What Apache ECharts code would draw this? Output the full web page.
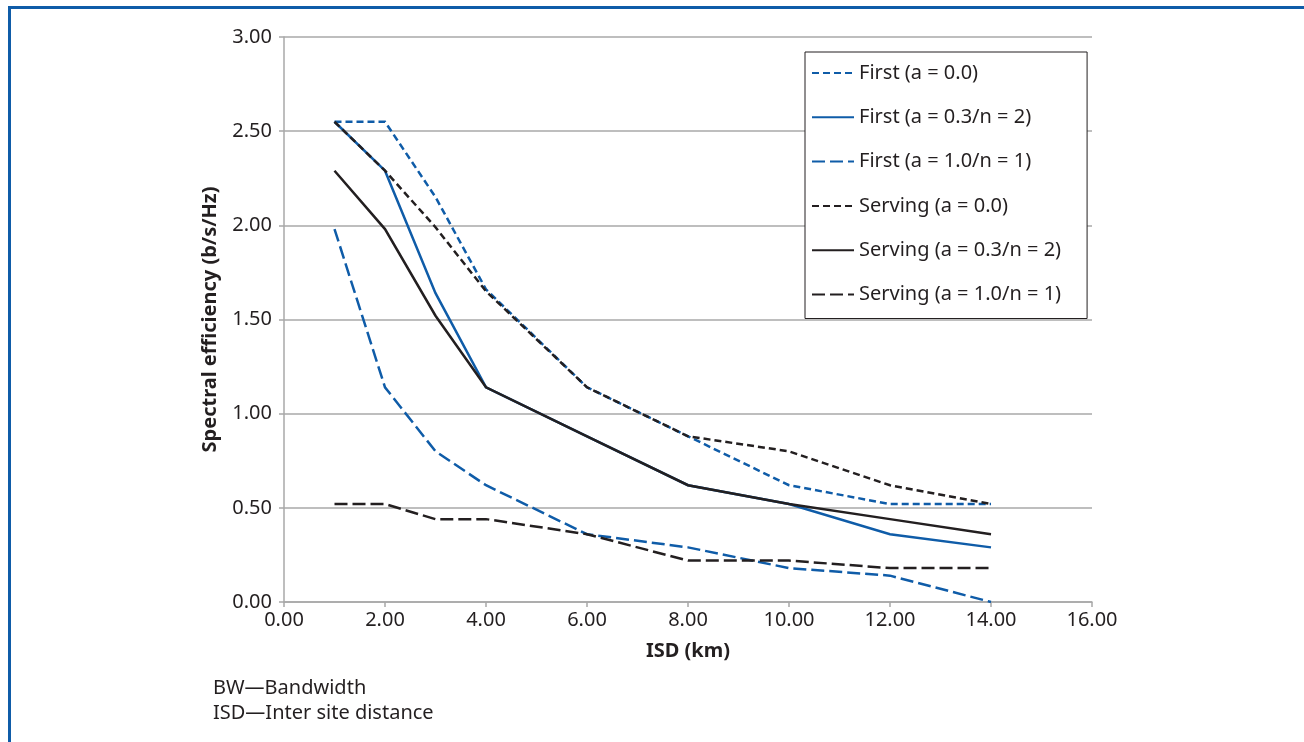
<!DOCTYPE html>
<html>
<head>
<meta charset="utf-8">
<script src="https://cdn.jsdelivr.net/npm/echarts@6/dist/echarts.min.js"></script>
<style>
  html, body { margin: 0; padding: 0; background: #ffffff; }
  #chart { width: 1304px; height: 742px; }
</style>
</head>
<body>
<div id="chart"></div>
<script>
// Inter site distance (km) at which spectral efficiency was evaluated
const isdKm = [1, 2, 3, 4, 6, 8, 10, 12, 14];

// Spectral efficiency (b/s/Hz) per cell-selection scheme
const firstA00   = [2.55, 2.55, 2.15, 1.66, 1.14, 0.88, 0.62, 0.52, 0.52];
const firstA03   = [2.55, 2.29, 1.64, 1.14, 0.88, 0.62, 0.52, 0.36, 0.29];
const firstA10   = [1.98, 1.14, 0.80, 0.62, 0.36, 0.29, 0.18, 0.14, 0.00];
const servingA00 = [2.55, 2.29, 1.99, 1.65, 1.14, 0.88, 0.80, 0.62, 0.52];
const servingA03 = [2.29, 1.98, 1.52, 1.14, 0.88, 0.62, 0.52, 0.44, 0.36];
const servingA10 = [0.52, 0.52, 0.44, 0.44, 0.36, 0.22, 0.22, 0.18, 0.18];

const seriesNames = [
  'First (a = 0.0)',
  'First (a = 0.3/n = 2)',
  'First (a = 1.0/n = 1)',
  'Serving (a = 0.0)',
  'Serving (a = 0.3/n = 2)',
  'Serving (a = 1.0/n = 1)'
];

const footNotes = ['BW\u2014Bandwidth', 'ISD\u2014Inter site distance'];

const BLUE = '#0f5ca8';
const DARK = '#231f20';
const GRID = '#a8a8a8';
const FONT = '"Noto Sans", "Open Sans", sans-serif';
const FS = 20;
const SHORT_DASH = [7, 4];
const LONG_DASH = [13, 5];

function pairs(values) {
  return isdKm.map((x, i) => [x, values[i]]);
}

function lineSeries(name, values, color, dash) {
  return {
    name: name,
    type: 'line',
    data: pairs(values),
    symbol: 'none',
    smooth: false,
    animation: false,
    lineStyle: { color: color, width: 2.5, type: dash, cap: 'butt', join: 'miter' },
    itemStyle: { color: color }
  };
}

const chart = echarts.init(document.getElementById('chart'), null, { renderer: 'canvas' });

chart.setOption({
  backgroundColor: '#ffffff',
  animation: false,
  textStyle: { fontFamily: FONT, color: DARK },
  grid: { left: 284, right: 212, top: 37, bottom: 140, containLabel: false },
  xAxis: {
    type: 'value',
    min: 0,
    max: 16,
    interval: 2,
    name: 'ISD (km)',
    nameLocation: 'middle',
    nameGap: 39,
    nameTextStyle: { fontFamily: FONT, fontSize: FS, fontWeight: 'bold', color: DARK },
    axisLine: { show: true, lineStyle: { color: GRID, width: 1.5 } },
    axisTick: { show: true, length: 5, lineStyle: { color: GRID, width: 1.5 } },
    axisLabel: {
      margin: 8,
      fontFamily: FONT,
      fontSize: FS,
      color: DARK,
      formatter: v => v.toFixed(2)
    },
    splitLine: { show: false }
  },
  yAxis: {
    type: 'value',
    min: 0,
    max: 3,
    interval: 0.5,
    name: 'Spectral efficiency (b/s/Hz)',
    nameLocation: 'middle',
    nameGap: 64,
    nameRotate: 90,
    nameTextStyle: { fontFamily: FONT, fontSize: FS, fontWeight: 'bold', color: DARK },
    axisLine: { show: true, lineStyle: { color: GRID, width: 1.5 } },
    axisTick: { show: true, length: 5, lineStyle: { color: GRID, width: 1.5 } },
    axisLabel: {
      margin: 12,
      fontFamily: FONT,
      fontSize: FS,
      color: DARK,
      formatter: v => v.toFixed(2)
    },
    splitLine: { show: true, lineStyle: { color: GRID, width: 1.5 } }
  },
  legend: {
    orient: 'vertical',
    left: 805,
    top: 52,
    padding: [11, 26, 14, 6],
    itemWidth: 42,
    itemHeight: 14,
    itemGap: 24.3,
    backgroundColor: '#ffffff',
    borderColor: DARK,
    borderWidth: 1,
    selectedMode: false,
    // line-only key: hide the default marker drawn on the key line
    itemStyle: { opacity: 0 },
    textStyle: { fontFamily: FONT, fontSize: FS, color: DARK, lineHeight: 20 },
    data: seriesNames
  },
  series: [
    lineSeries(seriesNames[0], firstA00, BLUE, SHORT_DASH),
    lineSeries(seriesNames[1], firstA03, BLUE, 'solid'),
    lineSeries(seriesNames[2], firstA10, BLUE, LONG_DASH),
    lineSeries(seriesNames[3], servingA00, DARK, SHORT_DASH),
    lineSeries(seriesNames[4], servingA03, DARK, 'solid'),
    lineSeries(seriesNames[5], servingA10, DARK, LONG_DASH)
  ],
  graphic: [
    // figure frame: top and left rules
    { type: 'rect', left: 8, top: 6, shape: { width: 1296, height: 3 }, style: { fill: BLUE }, silent: true },
    { type: 'rect', left: 8, top: 6, shape: { width: 3, height: 736 }, style: { fill: BLUE }, silent: true },
    // abbreviations under the plot
    {
      type: 'text', left: 213, top: 678,
      style: { text: footNotes[0], font: FS + 'px ' + FONT, fill: DARK }
    },
    {
      type: 'text', left: 213, top: 703,
      style: { text: footNotes[1], font: FS + 'px ' + FONT, fill: DARK }
    }
  ]
});
</script>
</body>
</html>
